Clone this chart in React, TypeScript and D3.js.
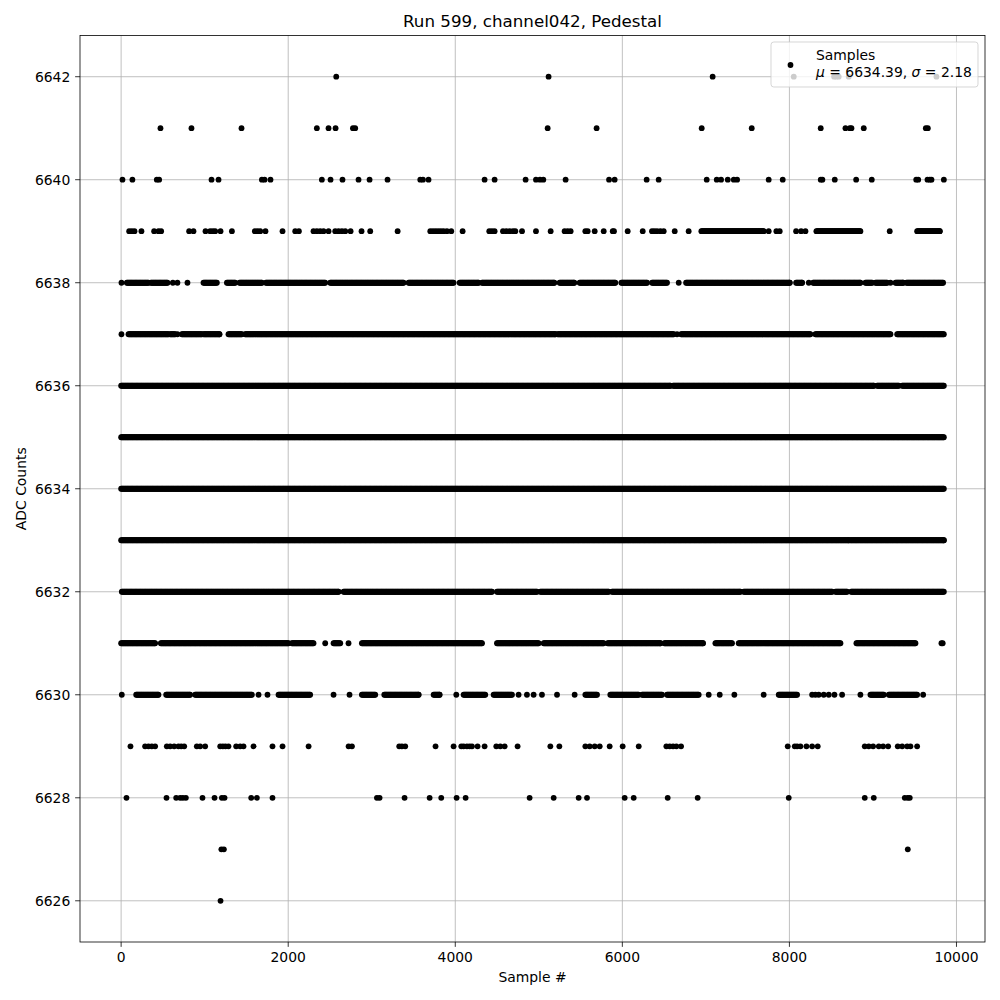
import React from 'react';
import * as d3 from 'd3';

// ---- Text ----
const titleText = 'Run 599, channel042, Pedestal';
const xLabel = 'Sample #';
const yLabel = 'ADC Counts';
const legendTitle = 'Samples';
const legendMu = '6634.39';
const legendSigma = '2.18';

// ---- Ticks ----
const xTicks = [0, 2000, 4000, 6000, 8000, 10000];
const yTicks = [6626, 6628, 6630, 6632, 6634, 6636, 6638, 6640, 6642];

// ---- Data (sample #) ----
// A number = single sample; a pair = contiguous stretch of samples at that ADC level
type Entry = number | [number, number];

const level6642: Entry[] = [2575, 5117, 7081, 8052, 8535, 8560, 8590, 8710, 9760];
const level6641: Entry[] = [471, 842, 1441, 2343, 2483, 2567, 2775, 2802, 5106, 5692, 6950, 7549, 8375, 8671, 8723, 8743, 8890, 9633, 9657];
const level6640: Entry[] = [16, 135, 427, 455, 1082, 1166, 1685, 1717, 1788, 2403, 2507, 2650, 2842, 2974, 3189, 3581, 3613, 3680, 4351, 4471, 4842, 4966, 5014, 5054, 5321, 5841, 5908, 6291, 6435, 7010, 7130, 7182, 7262, 7334, 7374, 7752, 7920, 8375, 8395, 8543, 8799, 8986, 9518, 9542, 9653, 9681, 9701, 9849];
const level6639: Entry[] = [96, 128, 160, 243, 395, 447, 479, 814, 866, 1010, 1066, 1098, 1126, 1190, 1326, 1601, 1633, 1665, 1728, 1932, 2084, 2128, 2303, 2343, 2383, 2423, 2483, 2563, 2603, 2643, 2683, 2747, 2878, 2982, 3310, 3701, 3733, 3765, 3796, 3828, 3860, 3900, 3952, 4088, 4407, 4439, 4471, 4571, 4611, 4651, 4691, 4719, 4799, 4966, 5142, 5309, 5345, 5381, 5557, 5585, 5669, 5777, 5885, 5900, 6064, 6244, 6355, 6383, 6415, 6455, 6495, 6627, 6794, [6946, 7692], 7752, 7844, 7884, 8080, 8140, 8192, [8323, 8850], 9201, [9529, 9800]];
const level6638: Entry[] = [4, [68, 327], [356, 555], 619, 674, 794, [986, 1146], [1266, 1365], [1417, 1685], [1733, 2443], [2503, 3381], [3441, 3980], [4052, 4279], [4320, 5186], [5249, 5425], [5489, 5916], [5988, 6296], [6356, 6535], 6675, [6763, 8004], [8080, 8152], 8232, [8284, 8850], [8910, 8990], [9030, 9170], 9210, [9270, 9361], [9401, 9840]];
const level6637: Entry[] = [4, [88, 567], [587, 647], 674, [727, 966], [986, 1177], [1285, 1445], [1485, 5198], [5225, 5944], [5956, 6615], 6655, [6703, 8251], [8311, 9210], [9290, 9849]];
const level6636: Entry[] = [[0, 6575], [6607, 9010], [9050, 9310], [9350, 9849]];
const level6635: Entry[] = [[0, 9849]];
const level6634: Entry[] = [[0, 9849]];
const level6633: Entry[] = [[0, 8712], [8728, 9849]];
const level6632: Entry[] = [[8, 2603], [2663, 4439], [4499, 4978], [5018, 5836], [5876, 7413], [7453, 8511], [8551, 8690], [8739, 9849]];
const level6631: Entry[] = [[0, 407], [475, 2004], [2044, 2303], 2443, [2543, 2623], 2722, [2882, 4320], [4499, 4998], [5058, 5776], [5824, 6455], [6503, 6966], [7114, 7313], [7393, 8611], [8802, 9509], 9820, 9835];
const level6630: Entry[] = [8, [180, 447], [539, 826], [886, 1565], 1645, 1752, [1884, 2263], 2543, 2734, [2882, 3042], [3150, 3561], [3741, 3812], 4012, [4100, 4359], [4459, 4679], 4758, 4858, 4938, 5038, 5218, 5429, [5557, 5697], [5856, 6195], [6236, 6475], [6535, 6914], 7034, 7166, 7341, 7692, [7872, 8092], 8272, 8311, 8351, 8411, 8471, 8539, 8631, 8850, [8970, 9130], [9190, 9529], 9601];
const level6629: Entry[] = [112, 287, 327, 367, 407, 547, 587, 635, 686, 719, 755, 906, 946, 1006, 1186, 1218, 1249, 1285, 1377, 1425, 1465, 1585, 1812, 1932, 2244, 2723, 2763, 3329, 3361, 3401, 3764, 3980, 4072, 4100, 4140, 4172, 4200, 4267, 4351, 4491, 4539, 4591, 4746, 5138, 5246, 5557, 5609, 5669, 5729, 5848, 6004, 6196, 6527, 6567, 6607, 6647, 6703, 7980, 8064, 8092, 8132, 8204, 8272, 8339, 8902, 8950, 9002, 9070, 9122, 9182, 9297, 9350, 9410, 9449, 9529];
const level6628: Entry[] = [64, 543, 659, 707, 739, 775, 974, 1118, 1206, 1238, 1557, 1625, 1812, 3062, 3094, 3393, 3693, 3832, 4016, 4124, 4890, 5178, 5477, 5577, 6028, 6136, 6543, 6902, 7992, 8902, 9010, 9381, 9417, 9441];
const level6627: Entry[] = [1200, 1230, 9417];
const level6626: Entry[] = [1190];

const levels: [number, Entry[]][] = [
  [6642, level6642], [6641, level6641], [6640, level6640], [6639, level6639],
  [6638, level6638], [6637, level6637], [6636, level6636], [6635, level6635],
  [6634, level6634], [6633, level6633], [6632, level6632], [6631, level6631],
  [6630, level6630], [6629, level6629], [6628, level6628], [6627, level6627],
  [6626, level6626],
];

const W = 1000;
const H = 1000;
const L = 80, R = 985, T = 35.5, B = 942;
const FONT = 'DejaVu Sans, sans-serif';

export default function App() {
  const x = d3.scaleLinear().domain([-492.45, 10341.45]).range([L, R]);
  const y = d3.scaleLinear().domain([6625.2, 6642.8]).range([B, T]);

  const pts: { s: number; v: number }[] = [];
  for (const [v, entries] of levels) {
    for (const e of entries) {
      if (typeof e === 'number') pts.push({ s: e, v });
      else {
        for (const s of d3.range(e[0], e[1], 10)) pts.push({ s, v });
        pts.push({ s: e[1], v });
      }
    }
  }

  const grid = '#b0b0b0';
  const tickLen = 4.86;

  return (
    <svg width={W} height={H} style={{ position: 'absolute', left: 0, top: 0, background: '#fff' }} fontFamily={FONT}>
      <rect x={0} y={0} width={W} height={H} fill="#fff" />
      {/* grid */}
      <g>
        {xTicks.map((t) => (
          <line key={'gx' + t} x1={x(t)} x2={x(t)} y1={T} y2={B} stroke={grid} strokeWidth={0.8} />
        ))}
        {yTicks.map((t) => (
          <line key={'gy' + t} x1={L} x2={R} y1={y(t)} y2={y(t)} stroke={grid} strokeWidth={0.8} />
        ))}
      </g>
      {/* points */}
      <g clipPath="url(#clip)">
        {pts.map((p, i) => (
          <circle key={i} cx={x(p.s)} cy={y(p.v)} r={2.9} fill="#000" />
        ))}
      </g>
      <defs>
        <clipPath id="clip">
          <rect x={L} y={T} width={R - L} height={B - T} />
        </clipPath>
      </defs>
      {/* spines */}
      <rect x={L} y={T} width={R - L} height={B - T} fill="none" stroke="#000" strokeWidth={0.8} />
      {/* x ticks */}
      {xTicks.map((t) => (
        <g key={'xt' + t}>
          <line x1={x(t)} x2={x(t)} y1={B} y2={B + tickLen} stroke="#000" strokeWidth={0.8} />
          <text x={x(t)} y={B + tickLen + 4.86 + 10.5} textAnchor="middle" fontSize={13.9} fill="#000">{t}</text>
        </g>
      ))}
      {/* y ticks */}
      {yTicks.map((t) => (
        <g key={'yt' + t}>
          <line x1={L - tickLen} x2={L} y1={y(t)} y2={y(t)} stroke="#000" strokeWidth={0.8} />
          <text x={L - tickLen - 4.86} y={y(t)} dy="0.35em" textAnchor="end" fontSize={13.9} fill="#000">{t}</text>
        </g>
      ))}
      {/* labels */}
      <text x={(L + R) / 2} y={982} textAnchor="middle" fontSize={13.9} fill="#000">{xLabel}</text>
      <text transform={`translate(26, ${(T + B) / 2}) rotate(-90)`} textAnchor="middle" fontSize={13.9} fill="#000">{yLabel}</text>
      <text x={(L + R) / 2} y={27} textAnchor="middle" fontSize={16.7} fill="#000">{titleText}</text>
      {/* legend */}
      <g>
        <rect x={771} y={42} width={207} height={45} rx={2.8} fill="#fff" fillOpacity={0.8} stroke="#cccccc" strokeOpacity={0.8} strokeWidth={1} />
        <circle cx={790.5} cy={65} r={2.9} fill="#000" />
        <text x={816} y={59.5} fontSize={13.9} fill="#000">{legendTitle}</text>
        <text x={816} y={76.5} fontSize={13.9} fill="#000">
          <tspan fontStyle="italic">μ</tspan>
          <tspan>{` = ${legendMu}, `}</tspan>
          <tspan fontStyle="italic">σ</tspan>
          <tspan>{` = ${legendSigma}`}</tspan>
        </text>
      </g>
    </svg>
  );
}
